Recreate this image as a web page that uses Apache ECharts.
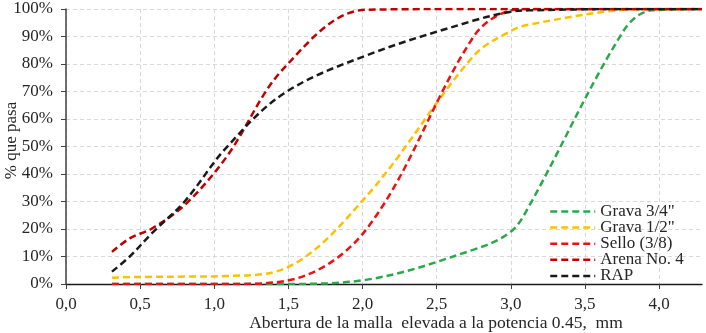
<!DOCTYPE html>
<html>
<head>
<meta charset="utf-8">
<script src="https://cdn.jsdelivr.net/npm/echarts@6/dist/echarts.min.js"></script>
<style>
  html, body { margin: 0; padding: 0; background: #fff; }
  #chart { width: 706px; height: 333px; }
</style>
</head>
<body>
<div id="chart"></div>
<script>
// abertura de tamiz elevada a 0.45
const aberturas = [0.31, 0.43, 0.58, 0.8, 1.08, 1.47, 2.02, 2.75, 3.0, 3.12, 3.76, 3.95, 4.29];

// % que pasa
const grava34 = [0, 0, 0, 0, 0, 0, 1.5, 12.5, 19, 28, 92, 99.5, 100];
const grava12 = [2.3, 2.5, 2.6, 2.7, 2.9, 5.5, 31.5, 83, 92, 94.3, 99.7, 100, 100];
const sello = [0, 0, 0, 0, 0, 1, 19.5, 90, 99.5, 100, 100, 100, 100];
const arena = [11.7, 16.6, 20.2, 28.7, 46, 78.5, 99.7, 100, 100, 100, 100, 100, 100];
const rap = [4.5, 10, 18.5, 30, 49.5, 69.3, 83, 95.8, 99, 99.5, 100, 100, 100];

const nombres = ['Grava 3/4"', 'Grava 1/2"', 'Sello (3/8)', 'Arena No. 4', 'RAP'];
const colores = ['#2AA84A', '#FFC000', '#EE1111', '#C00000', '#1A1A1A'];
const valores = [grava34, grava12, sello, arena, rap];

const serif = '"Liberation Serif", "DejaVu Serif", serif';

const chart = echarts.init(document.getElementById('chart'));

const series = valores.map((vals, i) => ({
  name: nombres[i],
  type: 'line',
  data: aberturas.map((x, j) => [x, vals[j]]),
  smooth: 0.35,
  symbol: 'none',
  showSymbol: false,
  lineStyle: {
    color: colores[i],
    width: 2.5,
    type: [7, 4]
  },
  itemStyle: { color: colores[i] }
}));

chart.setOption({
  animation: false,
  grid: { left: 66, right: 4, top: 9, bottom: 49, outerBoundsMode: 'none', containLabel: false },
  legend: {
    orient: 'vertical',
    left: 549,
    top: 203,
    padding: 0,
    itemWidth: 45,
    itemHeight: 10,
    itemGap: -0.9,
    selectedMode: false,
    itemStyle: { color: 'transparent', borderWidth: 0, opacity: 0 },
    lineStyle: { width: 2.5 },
    textStyle: { fontFamily: serif, fontSize: 17, color: '#262626', lineHeight: 16 },
    data: nombres
  },
  xAxis: {
    type: 'value',
    min: 0,
    max: 4.29,
    interval: 0.5,
    name: 'Abertura de la malla  elevada a la potencia 0.45,  mm',
    nameLocation: 'middle',
    nameGap: 30,
    nameMoveOverlap: false,
    nameTextStyle: {
      fontFamily: serif, fontSize: 17.5, color: '#262626',
      padding: [0, 0, 0, 104]
    },
    axisLine: { lineStyle: { color: '#1a1a1a', width: 1.3 } },
    axisTick: { show: true, length: 5, lineStyle: { color: '#404040' } },
    axisLabel: {
      fontFamily: serif, fontSize: 17, color: '#262626', margin: 12,
      showMaxLabel: false,
      formatter: v => v.toFixed(1).replace('.', ',')
    },
    splitLine: {
      show: true,
      showMaxLine: false,
      lineStyle: { color: '#D9D9D9', type: [4, 3], width: 1 }
    }
  },
  yAxis: {
    type: 'value',
    min: 0,
    max: 100,
    interval: 10,
    name: '% que pasa',
    nameLocation: 'middle',
    nameGap: 46,
    nameMoveOverlap: false,
    nameTextStyle: {
      fontFamily: serif, fontSize: 17, color: '#262626',
      padding: [0, 0, 0, 12]
    },
    axisLine: { show: true, lineStyle: { color: '#404040', width: 1.5 } },
    axisTick: { show: true, length: 5, lineStyle: { color: '#404040' } },
    axisLabel: {
      fontFamily: serif, fontSize: 17, color: '#262626', margin: 13,
      formatter: v => v + '%'
    },
    splitLine: {
      show: true,
      lineStyle: { color: '#D9D9D9', type: [4, 3], width: 1 }
    }
  },
  series: series
});
</script>
</body>
</html>
